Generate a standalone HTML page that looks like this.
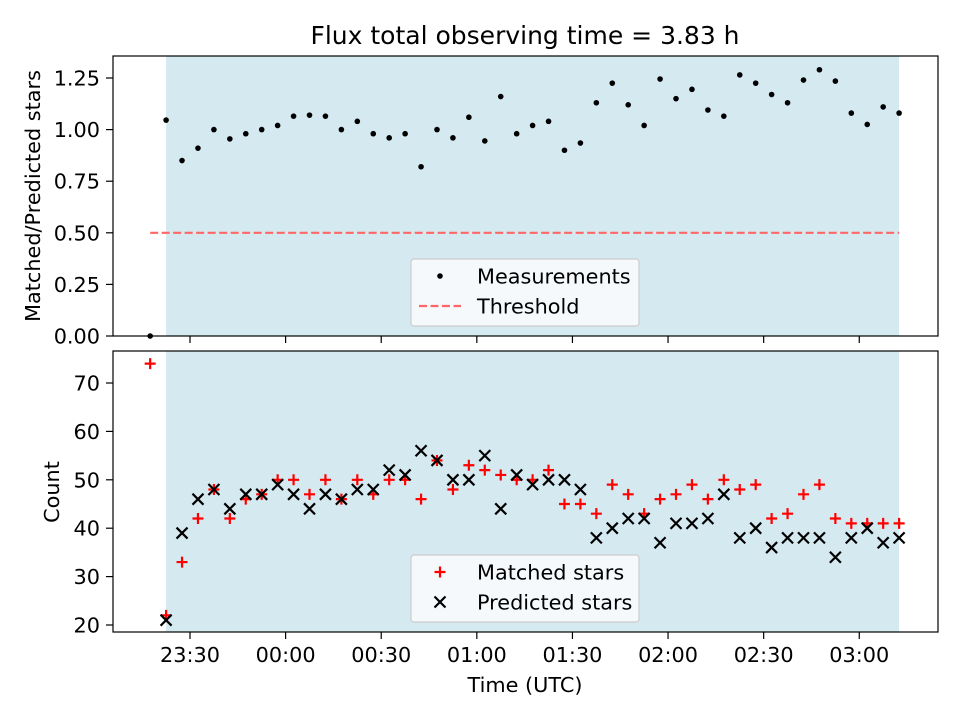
<!DOCTYPE html>
<html><head><meta charset="utf-8"><style>
html,body{margin:0;padding:0;background:#fff;}
svg{display:block;font-family:"DejaVu Sans","Liberation Sans",sans-serif;}
</style></head><body>
<svg id="chart" width="960" height="720" viewBox="0 0 960 720" xmlns="http://www.w3.org/2000/svg"></svg>
<script>
// minutes after 23:00 UTC
const times = [17.5,22.5,27.5,32.5,37.5,42.5,47.5,52.5,57.5,62.5,67.5,72.5,77.5,82.5,87.5,92.5,97.5,102.5,107.5,112.5,117.5,122.5,127.5,132.5,137.5,142.5,147.5,152.5,157.5,162.5,167.5,172.5,177.5,182.5,187.5,192.5,197.5,202.5,207.5,212.5,217.5,222.5,227.5,232.5,237.5,242.5,247.5,252.5];
const ratio = [0,1.046,0.85,0.91,1.0,0.955,0.98,1.0,1.02,1.065,1.07,1.065,1.0,1.04,0.98,0.96,0.98,0.82,1.0,0.96,1.06,0.945,1.16,0.98,1.02,1.04,0.9,0.935,1.13,1.225,1.12,1.02,1.245,1.15,1.195,1.095,1.065,1.265,1.225,1.17,1.13,1.24,1.29,1.235,1.08,1.025,1.11,1.08];
const matched = [74,22,33,42,48,42,46,47,50,50,47,50,46,50,47,50,50,46,54,48,53,52,51,50,50,52,45,45,43,49,47,43,46,47,49,46,50,48,49,42,43,47,49,42,41,41,41,41];
const predicted = [null,21,39,46,48,44,47,47,49,47,44,47,46,48,48,52,51,56,54,50,50,55,44,51,49,50,50,48,38,40,42,42,37,41,41,42,47,38,40,36,38,38,38,34,38,40,37,38];
const xTickLabels = ["23:30","00:00","00:30","01:00","01:30","02:00","02:30","03:00"];
const xTickMinutes = [30,60,90,120,150,180,210,240];
const topTicks = [0,0.25,0.5,0.75,1.0,1.25];
const botTicks = [20,30,40,50,60,70];
const threshold = 0.5;
const shadeStart = 22.5, shadeEnd = 252.5;

const NS="http://www.w3.org/2000/svg";
const svg=document.getElementById('chart');
function el(t,a,p){const e=document.createElementNS(NS,t);for(const k in a)e.setAttribute(k,a[k]);(p||svg).appendChild(e);return e;}
const L=113,R=938,FS=20.8;
const xs=m=>190+(m-30)*3.187;
const T={top:56,bot:336,ys:v=>336-v*206.4};
const B={top:351,bot:632,ys:v=>625-(v-20)*4.84};

function panel(P,name){
  const g=el('g',{});
  
  
  const sh=el('rect',{x:xs(shadeStart),y:P.top,width:xs(shadeEnd)-xs(shadeStart),height:P.bot-P.top,fill:'#d4e9f0'},g);
  
  
  xTickMinutes.forEach((m,i)=>{
    const t=el('line',{x1:xs(m),x2:xs(m),y1:P.bot,y2:P.bot+7,stroke:'#000','stroke-width':1.2},g);
    
    
  });
  return g;
}
const gT=panel(T,'top-panel');
const gB=panel(B,'bottom-panel');

topTicks.forEach(v=>{
  const y=T.ys(v);
  el('line',{x1:L-7,x2:L,y1:y,y2:y,stroke:'#000','stroke-width':1.2},gT);
  const t=el('text',{x:L-13,y:y+7.5,'text-anchor':'end','font-size':FS},gT);
  t.textContent=v.toFixed(2);
  
  
});
botTicks.forEach(v=>{
  const y=B.ys(v);
  el('line',{x1:L-7,x2:L,y1:y,y2:y,stroke:'#000','stroke-width':1.2},gB);
  const t=el('text',{x:L-13,y:y+7.5,'text-anchor':'end','font-size':FS},gB);
  t.textContent=v;
  
  
});
xTickMinutes.forEach((m,i)=>{
  const t=el('text',{x:xs(m),y:B.bot+30,'text-anchor':'middle','font-size':FS},gB);
  t.textContent=xTickLabels[i];
  
  
});

const th=el('line',{x1:xs(times[0]),x2:xs(times[times.length-1]),y1:T.ys(threshold),y2:T.ys(threshold),stroke:'#ff6666','stroke-width':2.2,'stroke-dasharray':'8,3.5'},gT);



times.forEach((m,i)=>{
  const c=el('circle',{cx:xs(m),cy:T.ys(ratio[i]),r:2.8,fill:'#000'},gT);
  
  
});
times.forEach((m,i)=>{
  if(matched[i]==null)return;
  const x=xs(m),y=B.ys(matched[i]);
  const p=el('path',{d:`M${x-5.5},${y}H${x+5.5}M${x},${y-5.5}V${y+5.5}`,stroke:'#ff0000','stroke-width':2.2},gB);
  
  
});
times.forEach((m,i)=>{
  if(predicted[i]==null)return;
  const x=xs(m),y=B.ys(predicted[i]);
  const p=el('path',{d:`M${x-5.5},${y-5.5}L${x+5.5},${y+5.5}M${x-5.5},${y+5.5}L${x+5.5},${y-5.5}`,stroke:'#000','stroke-width':2.2},gB);
  
  
});

[T,B].forEach(P=>{
  const f=el('rect',{x:L,y:P.top,width:R-L,height:P.bot-P.top,fill:'none',stroke:'#000','stroke-width':1.2});
  
  
});

function legend(y0,items,name){
  const g=el('g',{});
  
  
  el('rect',{x:411,y:y0,width:228,height:67,rx:3,fill:'#f5f9fc',stroke:'#cccccc','stroke-width':1.2},g);
  items.forEach((it,i)=>{
    const cy=y0+17+i*30, cx=440;
    if(it.k==='dot')el('circle',{cx:cx,cy:cy,r:2.8,fill:'#000'},g);
    if(it.k==='dash')el('line',{x1:419,x2:461,y1:cy,y2:cy,stroke:'#ff6666','stroke-width':2.2,'stroke-dasharray':'8,3.5'},g);
    if(it.k==='plus')el('path',{d:`M${cx-5.5},${cy}H${cx+5.5}M${cx},${cy-5.5}V${cy+5.5}`,stroke:'#f00','stroke-width':2.2},g);
    if(it.k==='x')el('path',{d:`M${cx-5.5},${cy-5.5}L${cx+5.5},${cy+5.5}M${cx-5.5},${cy+5.5}L${cx+5.5},${cy-5.5}`,stroke:'#000','stroke-width':2.2},g);
    const t=el('text',{x:477,y:cy+7.5,'font-size':FS},g);
    t.textContent=it.t;
    
    
  });
}
legend(259,[{k:'dot',t:'Measurements'},{k:'dash',t:'Threshold'}],'top-legend');
legend(555,[{k:'plus',t:'Matched stars'},{k:'x',t:'Predicted stars'}],'bottom-legend');

let t=el('text',{x:525,y:44,'text-anchor':'middle','font-size':25});
t.textContent='Flux total observing time = 3.83 h';

t=el('text',{x:0,y:0,'text-anchor':'middle','font-size':FS,transform:'translate(40,196) rotate(-90)'});
t.textContent='Matched/Predicted stars';

t=el('text',{x:0,y:0,'text-anchor':'middle','font-size':FS,transform:'translate(59,492) rotate(-90)'});
t.textContent='Count';

t=el('text',{x:525,y:692,'text-anchor':'middle','font-size':FS});
t.textContent='Time (UTC)';

</script>
</body></html>
